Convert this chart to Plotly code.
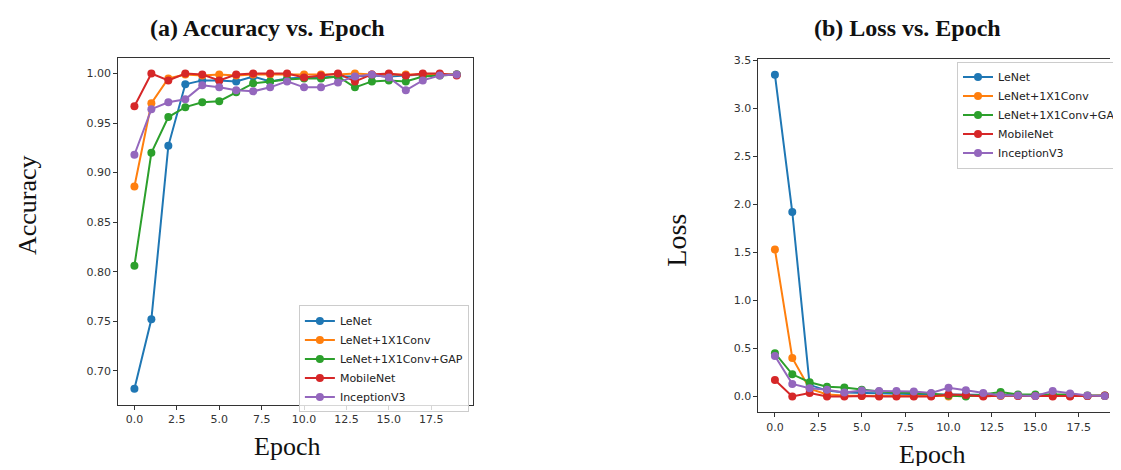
import plotly.graph_objects as go

epochs = list(range(20))
names = ["LeNet", "LeNet+1X1Conv", "LeNet+1X1Conv+GAP", "MobileNet", "InceptionV3"]
colors = ["#1f77b4", "#ff7f0e", "#2ca02c", "#d62728", "#9467bd"]

acc_lenet = [0.682, 0.752, 0.927, 0.989, 0.993, 0.993, 0.992, 0.997, 0.992, 0.995,
             0.996, 0.996, 0.997, 0.997, 0.998, 0.997, 0.998, 0.999, 0.999, 0.999]
acc_conv = [0.886, 0.970, 0.995, 0.999, 0.998, 0.999, 0.998, 0.999, 0.999, 0.999,
            0.999, 0.999, 0.999, 1.000, 0.999, 0.999, 0.999, 0.999, 0.999, 0.999]
acc_gap = [0.806, 0.920, 0.956, 0.966, 0.971, 0.972, 0.981, 0.990, 0.992, 0.994,
           0.995, 0.995, 0.997, 0.986, 0.992, 0.993, 0.992, 0.997, 0.998, 0.999]
acc_mobile = [0.967, 1.000, 0.993, 1.000, 0.999, 0.993, 0.999, 1.000, 1.000, 1.000,
              0.996, 0.998, 1.000, 0.992, 0.999, 1.000, 0.998, 1.000, 1.000, 0.998]
acc_incep = [0.918, 0.964, 0.971, 0.974, 0.988, 0.986, 0.983, 0.982, 0.986, 0.992,
             0.986, 0.986, 0.991, 0.997, 0.999, 0.996, 0.983, 0.993, 0.998, 0.999]

loss_lenet = [3.35, 1.92, 0.12, 0.06, 0.04, 0.035, 0.03, 0.03, 0.025, 0.02,
              0.02, 0.02, 0.015, 0.015, 0.01, 0.01, 0.01, 0.01, 0.005, 0.005]
loss_conv = [1.53, 0.40, 0.08, 0.02, 0.01, 0.005, 0.005, 0.005, 0.005, 0.005,
             0.0, 0.005, 0.005, 0.005, 0.005, 0.005, 0.005, 0.005, 0.005, 0.005]
loss_gap = [0.45, 0.23, 0.147, 0.10, 0.092, 0.068, 0.05, 0.04, 0.035, 0.03,
            0.01, 0.0, 0.02, 0.045, 0.02, 0.02, 0.02, 0.02, 0.01, 0.01]
loss_mobile = [0.17, 0.0, 0.035, 0.0, 0.0, 0.005, 0.0, 0.0, 0.0, 0.0,
               0.02, 0.015, 0.0, 0.01, 0.005, 0.005, 0.0, 0.0, 0.005, 0.01]
loss_incep = [0.42, 0.13, 0.085, 0.07, 0.04, 0.06, 0.055, 0.055, 0.05, 0.035,
              0.09, 0.065, 0.035, 0.01, 0.01, 0.005, 0.055, 0.03, 0.01, 0.005]

acc_series = [acc_lenet, acc_conv, acc_gap, acc_mobile, acc_incep]
loss_series = [loss_lenet, loss_conv, loss_gap, loss_mobile, loss_incep]

# page offset of the plot div inside the browser window
DX, DY = 2, 12
W, H = 1121 - DX, 470 - DY


def px(x):
    return (x - DX) / W


def py(y):
    return 1 - (y - DY) / H


fig = go.Figure()

for name, col, ys in zip(names, colors, acc_series):
    fig.add_trace(go.Scatter(x=epochs, y=ys, name=name, mode="lines+markers",
                             line=dict(color=col, width=2),
                             marker=dict(color=col, size=8),
                             xaxis="x", yaxis="y", legend="legend"))
for name, col, ys in zip(names, colors, loss_series):
    fig.add_trace(go.Scatter(x=epochs, y=ys, name=name, mode="lines+markers",
                             line=dict(color=col, width=2),
                             marker=dict(color=col, size=8),
                             xaxis="x2", yaxis="y2", legend="legend2"))

tickfont = dict(family="DejaVu Sans", size=11, color="#333333")
axcommon = dict(showline=True, linecolor="#333333", linewidth=1, ticks="outside",
                ticklen=4, tickcolor="#333333", tickfont=tickfont,
                showgrid=False, zeroline=False)

legfont = dict(family="DejaVu Sans", size=11, color="#222222")

fig.update_layout(
    width=W, height=H,
    margin=dict(l=0, r=0, t=0, b=0),
    paper_bgcolor="white", plot_bgcolor="white",
    xaxis=dict(domain=[px(114), px(474)], range=[-0.95, 19.95], anchor="y",
               tickvals=[0, 2.5, 5, 7.5, 10, 12.5, 15, 17.5], tickformat=".1f",
               mirror=True, **axcommon),
    yaxis=dict(domain=[py(408), py(58)], range=[0.666, 1.016], anchor="x",
               tickvals=[0.70, 0.75, 0.80, 0.85, 0.90, 0.95, 1.00], tickformat=".2f",
               mirror=True, **axcommon),
    xaxis2=dict(domain=[px(764), 1.0], range=[-0.95, 19.3], anchor="y2",
                tickvals=[0, 2.5, 5, 7.5, 10, 12.5, 15, 17.5], tickformat=".1f",
                mirror=True, **axcommon),
    yaxis2=dict(domain=[py(416), py(59)], range=[-0.1675, 3.5175], anchor="x2",
                tickvals=[0, 0.5, 1.0, 1.5, 2.0, 2.5, 3.0, 3.5], tickformat=".1f",
                mirror=False, **axcommon),
    legend=dict(x=px(470), y=py(362), xanchor="right", yanchor="middle",
                bgcolor="rgba(255,255,255,0.8)", bordercolor="#cccccc", borderwidth=1,
                font=legfont, itemwidth=30, tracegroupgap=0),
    legend2=dict(x=px(966), y=py(62), xanchor="left", yanchor="top",
                 bgcolor="rgba(255,255,255,0.8)", bordercolor="#cccccc", borderwidth=1,
                 font=legfont, itemwidth=30, tracegroupgap=0),
    showlegend=True,
)

serif = "Liberation Serif"
annots = [
    dict(text="<b>(a) Accuracy vs. Epoch</b>", x=265, y=28, size=24, angle=0),
    dict(text="<b>(b) Loss vs. Epoch</b>", x=915, y=28, size=24, angle=0),
    dict(text="Epoch", x=285, y=450, size=26, angle=0),
    dict(text="Epoch", x=940, y=458, size=26, angle=0),
    dict(text="Accuracy", x=22, y=207, size=26, angle=-90),
    dict(text="Loss", x=681, y=242, size=28, angle=-90),
]
for a in annots:
    fig.add_annotation(text=a["text"], x=px(a["x"]), y=py(a["y"]), xref="paper", yref="paper",
                       xanchor="center", yanchor="middle", showarrow=False,
                       textangle=a["angle"],
                       font=dict(family=serif, size=a["size"], color="#111111"))

fig.write_html("out.html")
